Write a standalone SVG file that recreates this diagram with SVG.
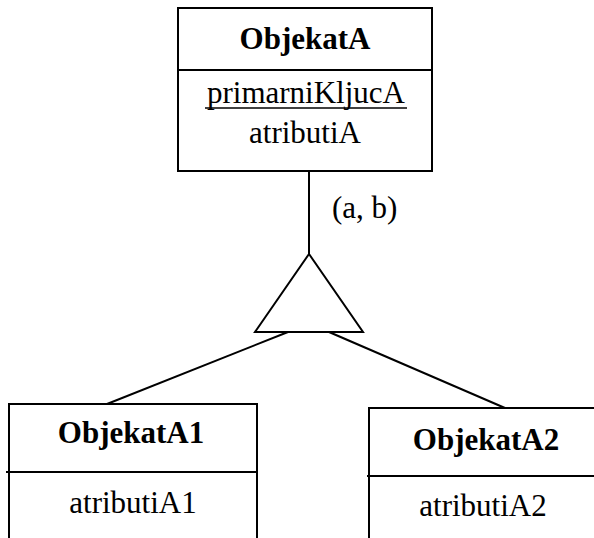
<svg xmlns="http://www.w3.org/2000/svg" width="594" height="538" viewBox="0 0 594 538">
<style>
.box{fill:#fff;stroke:#000;stroke-width:2}
.ln{fill:none;stroke:#000;stroke-width:2}
text{font-size:31px;fill:#000;text-anchor:middle}
.b{font-weight:bold}
</style>
<rect width="594" height="538" fill="#fff"/>
<g font-family="Liberation Serif, Times New Roman, serif">
<g id="connectors">
<line class="ln" x1="309" y1="171" x2="309" y2="254"/>
<line class="ln" x1="288" y1="332" x2="107" y2="404"/>
<line class="ln" x1="329" y1="332" x2="505" y2="408"/>
<text x="332" y="218" style="text-anchor:start">(a, b)</text>
</g>
<g id="specialization">
<polygon class="ln" points="309,254 255,332 363,332"/>
</g>
<g id="ObjekatA">
<rect class="box" x="178" y="8" width="254" height="163"/>
<line class="ln" x1="178" y1="70" x2="432" y2="70"/>
<text class="b" x="305" y="49">ObjekatA</text>
<text x="306" y="103">primarniKljucA</text>
<line x1="205" y1="108" x2="407" y2="108" stroke="#000" stroke-width="1.5"/>
<text x="305" y="143">atributiA</text>
</g>
<g id="ObjekatA1">
<rect class="box" x="9" y="404" width="248" height="150"/>
<line class="ln" x1="6" y1="472" x2="257" y2="472"/>
<text class="b" x="131" y="443">ObjekatA1</text>
<text x="133" y="513">atributiA1</text>
</g>
<g id="ObjekatA2">
<rect class="box" x="369" y="408" width="250" height="150"/>
<line class="ln" x1="367" y1="476" x2="594" y2="476"/>
<text class="b" x="486" y="450">ObjekatA2</text>
<text x="483" y="516">atributiA2</text>
</g>
</g>
</svg>
